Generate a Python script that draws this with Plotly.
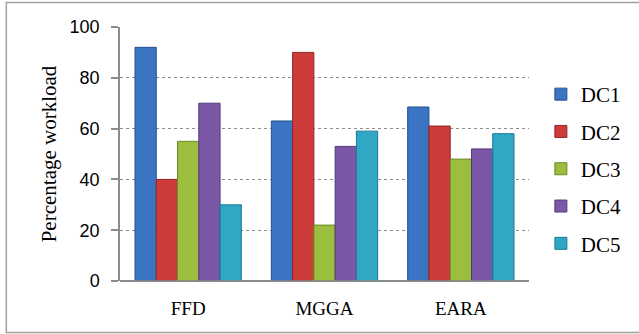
import plotly.graph_objects as go

# Workload share per data centre under each placement algorithm
algorithms = ["FFD", "MGGA", "EARA"]
dc1 = [92, 63, 68.5]
dc2 = [40, 90, 61]
dc3 = [55, 22, 48]
dc4 = [70, 53, 52]
dc5 = [30, 59, 58]

series_names = ["DC1", "DC2", "DC3", "DC4", "DC5"]
series_values = [dc1, dc2, dc3, dc4, dc5]
fill_colors = ["#3B74C2", "#CD3B3B", "#9BBE3F", "#7B58A7", "#30A7C5"]
edge_colors = ["#24518F", "#922424", "#6B8A25", "#553A7C", "#1C7A93"]

fig = go.Figure()
for i, (name, vals) in enumerate(zip(series_names, series_values)):
    fig.add_trace(go.Bar(
        x=algorithms, y=vals, name=name, legendgroup=name,
        marker=dict(color=fill_colors[i],
                    line=dict(color=edge_colors[i], width=1)),
    ))

serif = "Times New Roman"
sans = "Liberation Sans"

fig.update_layout(
    width=639, height=334,
    margin=dict(l=120, r=107, t=27, b=53),
    paper_bgcolor="white", plot_bgcolor="white",
    barmode="group", bargap=0.22, bargroupgap=0,
    showlegend=True,
    legend=dict(
        x=1.029, xanchor="left", y=0.815, yanchor="top",
        xref="paper", yref="paper",
        font=dict(family=serif, size=21, color="black"),
        tracegroupgap=7, bgcolor="rgba(0,0,0,0)",
        itemwidth=30,
    ),
    xaxis=dict(
        showline=False, showgrid=False, ticks="",
        tickfont=dict(family=serif, size=19, color="black"),
        ticklabelstandoff=14,
    ),
    yaxis=dict(
        range=[0, 100], dtick=20, tick0=0,
        showline=True, linecolor="#8C8C8C", linewidth=1.5,
        ticks="outside", ticklen=7, tickcolor="#8C8C8C", tickwidth=1.5,
        showgrid=True, gridcolor="#8C8C8C", griddash="dot", gridwidth=1,
        zeroline=True, zerolinecolor="#8C8C8C", zerolinewidth=1.5,
        tickfont=dict(family=sans, size=18, color="black"),
        ticklabelstandoff=8,
        title=dict(text="Percentage workload", standoff=7,
                   font=dict(family=serif, size=21, color="black")),
    ),
    shapes=[
        dict(type="rect", xref="paper", yref="paper",
             x0=-0.2779, x1=1.274, y0=-0.2028, y1=1.0965,
             line=dict(color="#A0A0A0", width=1.5), layer="below"),
        # x-axis baseline extended left to meet the 0 tick
        dict(type="line", xref="paper", yref="y",
             x0=-0.017, x1=1.0, y0=0, y1=0,
             line=dict(color="#8C8C8C", width=1.5)),
    ],
)

fig.write_html("out.html")
